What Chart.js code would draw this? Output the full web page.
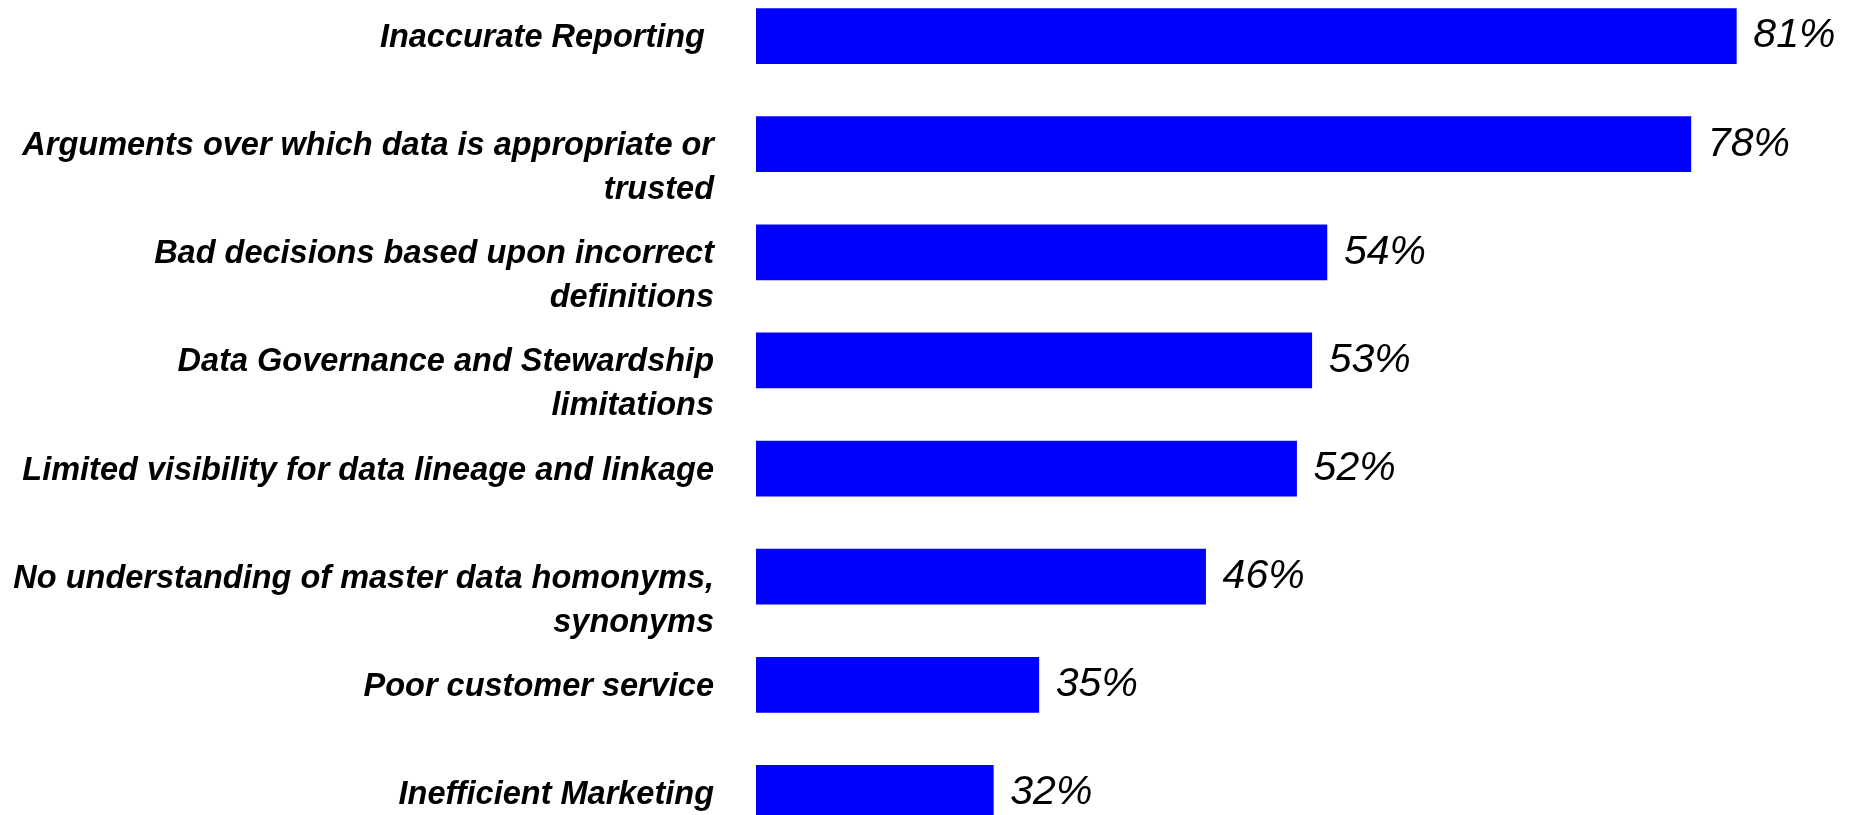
<!DOCTYPE html>
<html>
<head>
<meta charset="utf-8">
<script src="https://cdn.jsdelivr.net/npm/chart.js@4/dist/chart.umd.min.js"></script>
<style>
  html, body { margin: 0; padding: 0; background: #ffffff; overflow: hidden; width: 1866px; height: 815px; }
  #wrap { position: absolute; left: 0; top: -18px; width: 1866px; height: 865px; }
</style>
</head>
<body>
<div id="wrap"><canvas id="c"></canvas></div>
<script>
const categories = [
  ["Inaccurate Reporting "],
  ["Arguments over which data is appropriate or", "trusted"],
  ["Bad decisions based upon incorrect", "definitions"],
  ["Data Governance and Stewardship", "limitations"],
  ["Limited visibility for data lineage and linkage"],
  ["No understanding of master data homonyms,", "synonyms"],
  ["Poor customer service"],
  ["Inefficient Marketing"]
];
const values = [81, 78, 54, 53, 52, 46, 35, 32];
const valueSuffix = "%";

const valueLabels = {
  id: 'valueLabels',
  afterDatasetsDraw(chart) {
    const ctx = chart.ctx;
    const meta = chart.getDatasetMeta(0);
    ctx.save();
    ctx.font = 'italic 41px "Liberation Sans", Arial, sans-serif';
    ctx.fillStyle = '#000000';
    ctx.textAlign = 'left';
    ctx.textBaseline = 'middle';
    meta.data.forEach((bar, i) => {
      ctx.fillText(values[i] + valueSuffix, bar.x + 17, bar.y);
    });
    ctx.restore();
  }
};

new Chart(document.getElementById('c'), {
  type: 'bar',
  data: {
    labels: categories,
    datasets: [{
      data: values,
      backgroundColor: '#0000FF',
      borderWidth: 0,
      barThickness: 55
    }]
  },
  options: {
    indexAxis: 'y',
    responsive: true,
    maintainAspectRatio: false,
    animation: false,
    layout: { padding: { left: 0, right: 69, top: 0, bottom: 0 } },
    plugins: {
      legend: { display: false },
      tooltip: { enabled: false },
      title: { display: false }
    },
    scales: {
      x: {
        display: false,
        min: 16.35,
        max: 85
      },
      y: {
        grid: { display: false, drawTicks: false },
        border: { display: false },
        ticks: {
          color: '#000000',
          padding: 42,
          labelOffset: 2,
          autoSkip: false,
          font: { family: '"Liberation Sans", Arial, sans-serif', size: 32.5, weight: 'bold', style: 'italic', lineHeight: 44 / 32.5 },
          callback: function (value, index) {
            const lines = categories[index];
            return lines.length > 1 ? [""].concat(lines) : lines;
          }
        },
        afterFit(scale) {
          scale.width = 756;
          scale.paddingTop = 0;
          scale.paddingBottom = 0;
        }
      }
    }
  },
  plugins: [valueLabels]
});
</script>
</body>
</html>
